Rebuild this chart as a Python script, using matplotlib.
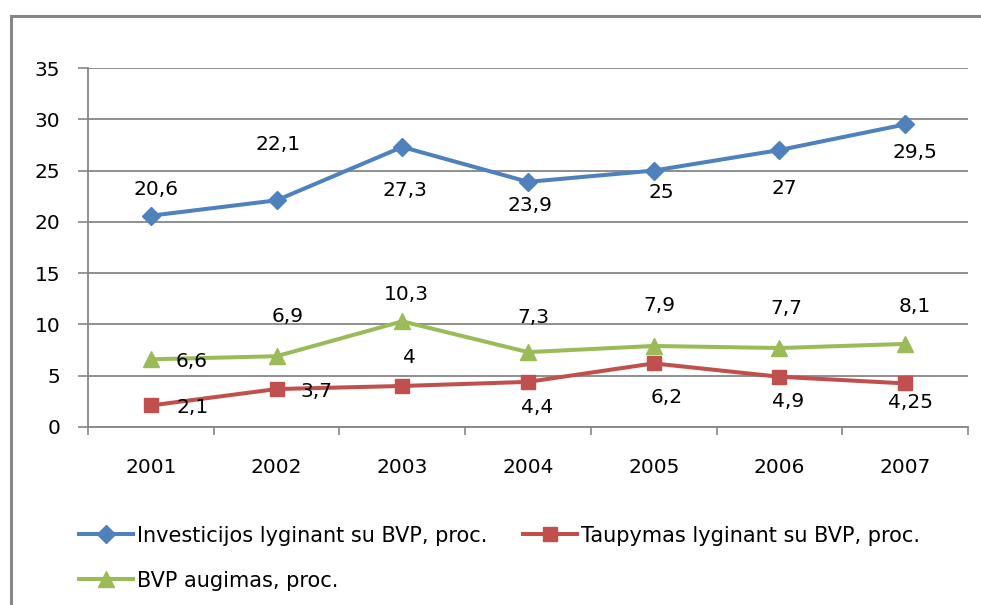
import numpy as np
import matplotlib.pyplot as plt
from matplotlib.patches import Rectangle

plt.rcParams['font.family'] = ['DejaVu Sans']

# duomenys
years = ['2001', '2002', '2003', '2004', '2005', '2006', '2007']
investicijos = [20.6, 22.1, 27.3, 23.9, 25, 27, 29.5]
taupymas = [2.1, 3.7, 4, 4.4, 6.2, 4.9, 4.25]
bvp = [6.6, 6.9, 10.3, 7.3, 7.9, 7.7, 8.1]
inv_labels = ['20,6', '22,1', '27,3', '23,9', '25', '27', '29,5']
taup_labels = ['2,1', '3,7', '4', '4,4', '6,2', '4,9', '4,25']
bvp_labels = ['6,6', '6,9', '10,3', '7,3', '7,9', '7,7', '8,1']

# etikečių poslinkiai pikseliais (dx, dy žemyn teigiamas)
inv_off = [(5, -26), (1, -56), (3, 44), (2, 24), (8, 22), (5, 38), (10, 28)]
taup_off = [(42, 2), (40, 2), (7, -28), (9, 26), (13, 34), (9, 25), (5, 19)]
bvp_off = [(41, 2), (11, -40), (4, -27), (5, -35), (6, -40), (7, -40), (10, -37)]

blue = '#4F81BD'
red = '#C0504D'
green = '#9BBB59'
grid_c = '#868686'
fs = 14.5

fig = plt.figure(figsize=(9.81, 6.05), dpi=100)
# rėmelis
fig.patches.append(Rectangle((11 / 981, -0.1), 1.2, 1 - 16 / 605 + 0.1,
                             transform=fig.transFigure, fill=False,
                             edgecolor=grid_c, linewidth=2.2))

ax = fig.add_axes([88 / 981, 1 - 427 / 605, 880 / 981, 359 / 605])
x = np.arange(len(years))

l1, = ax.plot(x, investicijos, color=blue, lw=2.9, marker='D', ms=9,
              label='Investicijos lyginant su BVP, proc.', zorder=5)
l2, = ax.plot(x, taupymas, color=red, lw=2.9, marker='s', ms=10,
              label='Taupymas lyginant su BVP, proc.', zorder=5)
l3, = ax.plot(x, bvp, color=green, lw=2.9, marker='^', ms=11,
              label='BVP augimas, proc.', zorder=5)

for vals, labs, offs in [(investicijos, inv_labels, inv_off),
                         (taupymas, taup_labels, taup_off),
                         (bvp, bvp_labels, bvp_off)]:
    for i, (v, s, (dx, dy)) in enumerate(zip(vals, labs, offs)):
        ax.annotate(s, (x[i], v), xytext=(dx * 0.72, -dy * 0.72),
                    textcoords='offset points', ha='center', va='center',
                    fontsize=fs, zorder=6)

ax.set_xlim(-0.5, 6.5)
ax.set_ylim(0, 35)
ax.set_yticks(np.arange(0, 36, 5))
ax.set_xticks(x)
ax.set_xticklabels(years)
ax.set_xticks(np.arange(-0.5, 7, 1), minor=True)
ax.tick_params(axis='x', which='major', length=0, pad=22, labelsize=fs)
ax.tick_params(axis='x', which='minor', length=6, color=grid_c, width=1.2)
ax.tick_params(axis='y', length=7, color=grid_c, width=1.2, pad=13, labelsize=fs)
ax.grid(axis='y', color=grid_c, lw=1.3)
ax.set_axisbelow(True)
for side in ['top', 'right']:
    ax.spines[side].set_visible(False)
for side in ['left', 'bottom']:
    ax.spines[side].set_color(grid_c)
    ax.spines[side].set_linewidth(1.3)

fig.legend([l1, l3, l2], [l1.get_label(), l3.get_label(), l2.get_label()],
           ncol=2, loc='upper left', bbox_to_anchor=(60 / 981, 1 - 507 / 605),
           frameon=False, fontsize=15, handlelength=2.6, handletextpad=0.2,
           columnspacing=1.7, labelspacing=1.2)

fig.savefig('out.png', dpi=100)
